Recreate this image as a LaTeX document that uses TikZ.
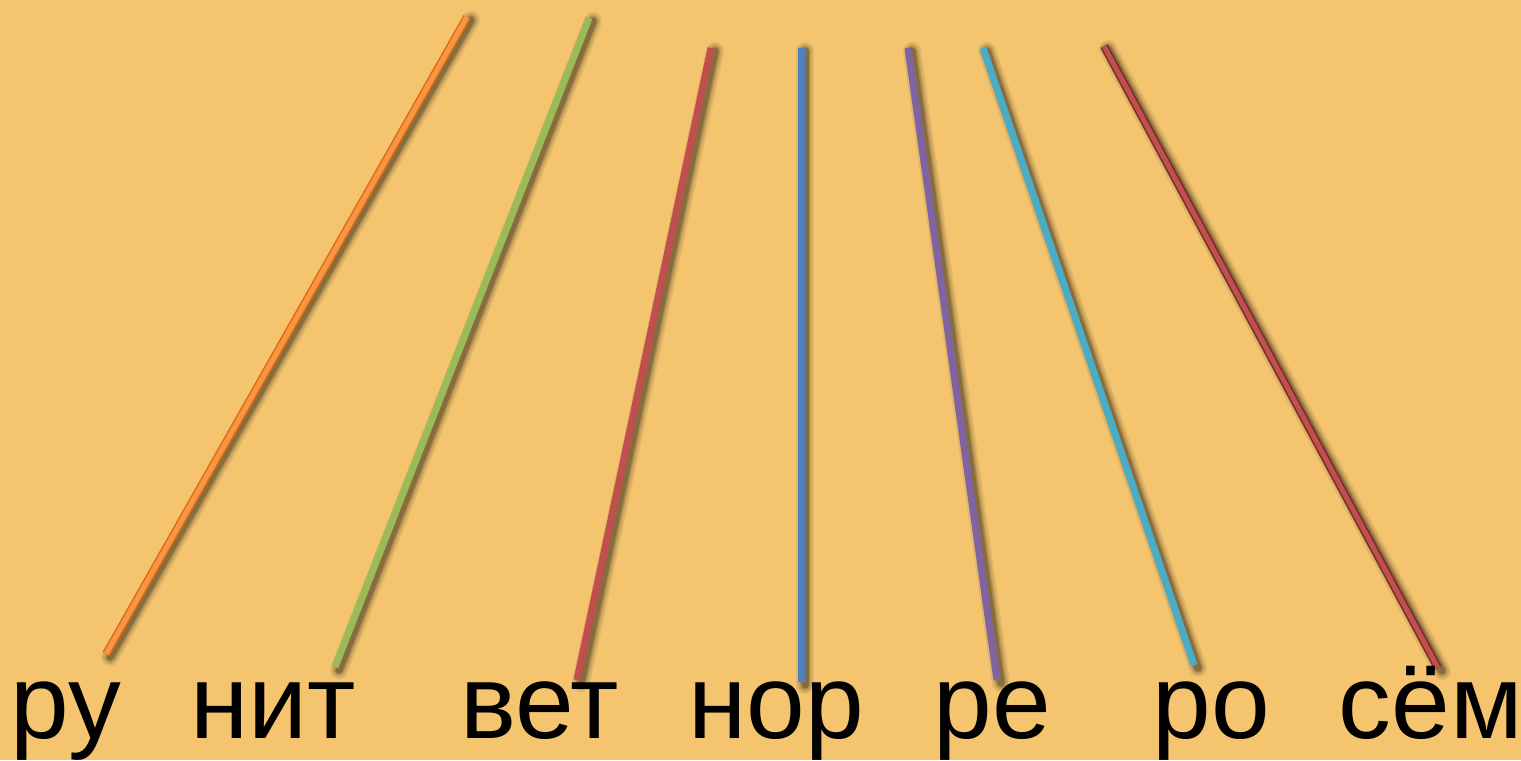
\documentclass[tikz,border=0pt]{standalone}
\usepackage{fontspec}
\setmainfont{Liberation Sans}
\definecolor{bgcol}{HTML}{F4C46F}
\definecolor{lorange}{HTML}{F79646}
\definecolor{dorange}{HTML}{E46C0A}
\definecolor{lgreen}{HTML}{9BBB59}
\definecolor{lred}{HTML}{C0504D}
\definecolor{dred}{HTML}{7A2A28}
\definecolor{lblue}{HTML}{4F81BD}
\definecolor{lpurple}{HTML}{8064A2}
\definecolor{lcyan}{HTML}{4BACC6}

\begin{document}
\begin{tikzpicture}[x=0.01cm,y=-0.01cm,
    word/.style={anchor=base west, inner sep=0pt, font=\fontsize{30}{36}\selectfont}]
    \fill[bgcol] (0,0) rectangle (1521,760);
    \useasboundingbox (0,0) rectangle (1521,760);
    % strokes with soft shadow
    \foreach \xa/\ya/\xb/\yb/\fc/\oc/\w in {467/17/106/654/lorange/dorange/8,
        589/18/335/667/lgreen/lgreen/7, 711/48/577/680/lred/lred/7,
        801/48/801/682/lblue/lblue/7, 908/48/997/680/lpurple/lpurple/7,
        983/48/1194/665/lcyan/lcyan/7, 1104/46/1438/668/lred/dred/8}{
      \coordinate (p) at (\xa,\ya);
      \coordinate (q) at (\xb,\yb);
      \foreach \s/\o in {18/0.07,14/0.1,10/0.16,7/0.2}
        \draw[black, opacity=\o, line width=\s*0.2845pt, line cap=round]
          ([shift={(4,3)}]p) -- ([shift={(4,3)}]q);
      \draw[\oc, line width=\w*0.2845pt] (p) -- (q);
      \draw[\fc, line width=(\w-3)*0.2845pt] (p) -- (q);
    }
    % syllables
    \node[word] (ru) at (10,738) {ру};
    \node[word] (nit) at (190,738) {нит};
    \node[word] (vet) at (460,738) {вет};
    \node[word] (nor) at (688,738) {нор};
    \node[word] (re) at (933,738) {ре};
    \node[word] (ro) at (1152,738) {ро};
    \node[word] (syom) at (1338,738) {сём};
\end{tikzpicture}
\end{document}
